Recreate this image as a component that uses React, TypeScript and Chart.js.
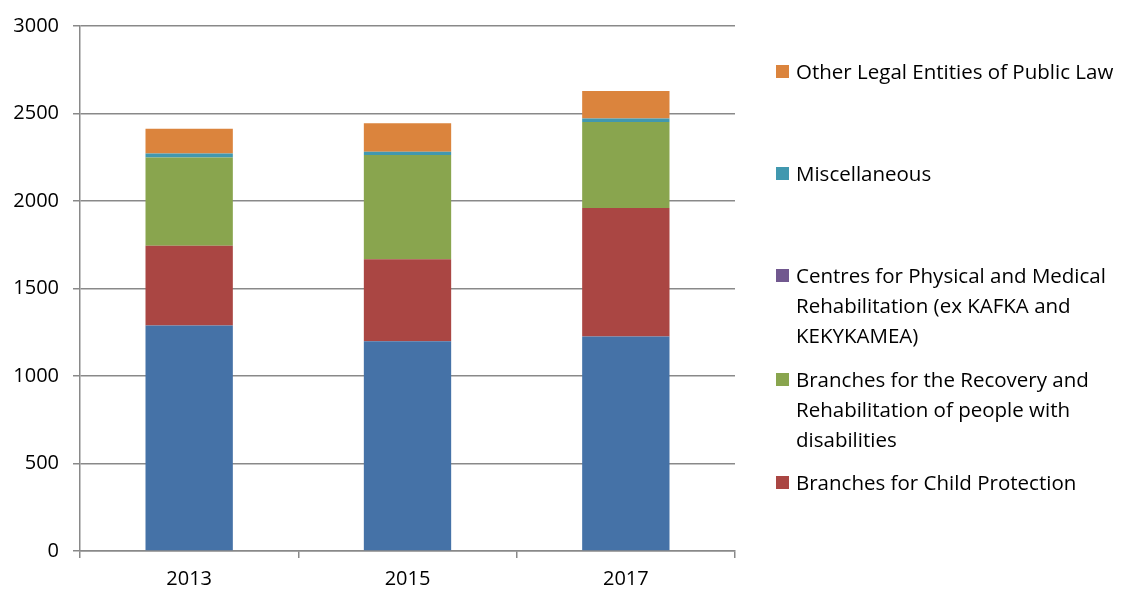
import React, { useEffect, useRef } from "react";
import { Chart, registerables } from "chart.js";

Chart.register(...registerables);

const years = ["2013", "2015", "2017"];
const seriesBlue = [1289, 1198, 1226];
const childProtection = [456, 469, 734];
const recoveryRehab = [504, 596, 491];
const physicalMedical = [0, 0, 0];
const miscellaneous = [23, 18, 20];
const otherLegal = [141, 164, 158];
const yTicks = [0, 500, 1000, 1500, 2000, 2500, 3000];

const FONT = "'Open Sans', sans-serif";
const GRID = "#898989";

const legendItems: { color: string; lines: string[] }[] = [
  { color: "#DB843D", lines: ["Other Legal Entities of Public Law"] },
  { color: "#4198AF", lines: ["Miscellaneous"] },
  {
    color: "#71588F",
    lines: ["Centres for Physical and Medical", "Rehabilitation (ex KAFKA and", "KEKYKAMEA)"],
  },
  {
    color: "#89A54E",
    lines: ["Branches for the Recovery and", "Rehabilitation of people with", "disabilities"],
  },
  { color: "#AA4643", lines: ["Branches for Child Protection"] },
];
const legendTops = [56, 158, 260, 364, 467];

export default function App() {
  const ref = useRef<HTMLCanvasElement | null>(null);

  useEffect(() => {
    if (!ref.current) return;
    const mk = (label: string, data: number[], color: string) => ({
      label,
      data,
      backgroundColor: color,
      borderWidth: 0,
      barPercentage: 0.4,
      categoryPercentage: 1,
    });
    const chart = new Chart(ref.current, {
      type: "bar",
      data: {
        labels: years,
        datasets: [
          mk("Other series", seriesBlue, "#4572A7"),
          mk("Branches for Child Protection", childProtection, "#AA4643"),
          mk("Branches for the Recovery and Rehabilitation of people with disabilities", recoveryRehab, "#89A54E"),
          mk("Centres for Physical and Medical Rehabilitation (ex KAFKA and KEKYKAMEA)", physicalMedical, "#71588F"),
          mk("Miscellaneous", miscellaneous, "#4198AF"),
          mk("Other Legal Entities of Public Law", otherLegal, "#DB843D"),
        ],
      },
      options: {
        animation: false,
        responsive: false,
        maintainAspectRatio: false,
        layout: { padding: { top: 25, right: 387, left: 0, bottom: 0 } },
        plugins: { legend: { display: false }, tooltip: { enabled: false } },
        scales: {
          x: {
            stacked: true,
            offset: true,
            grid: {
              offset: true,
              drawOnChartArea: false,
              color: GRID,
              lineWidth: 1.5,
              tickLength: 7,
            },
            border: { color: GRID, width: 1.5 },
            ticks: { color: "#000", font: { family: FONT, size: 20 }, padding: 9 },
            afterFit: (s: any) => {
              s.height = 41;
            },
          },
          y: {
            stacked: true,
            min: 0,
            max: 3000,
            afterBuildTicks: (s: any) => {
              s.ticks = yTicks.map((v) => ({ value: v }));
            },
            grid: { color: GRID, lineWidth: 1.5, tickLength: 7 },
            border: { color: GRID, width: 1.5 },
            ticks: {
              color: "#000",
              font: { family: FONT, size: 20 },
              padding: 14,
              callback: (v: any) => String(v),
            },
            afterFit: (s: any) => {
              s.width = 80;
            },
          },
        },
      },
    });
    return () => chart.destroy();
  }, []);

  return (
    <div style={{ position: "absolute", left: 0, top: 0, width: 1122, height: 592, background: "#fff" }}>
      <canvas ref={ref} width={1122} height={592} style={{ position: "absolute", left: 0, top: 0 }} />
      {legendItems.map((it, i) => (
        <div
          key={i}
          style={{
            position: "absolute",
            left: 776,
            top: legendTops[i],
            fontFamily: FONT,
            fontSize: 20.5,
            lineHeight: "30px",
            color: "#000",
            whiteSpace: "nowrap",
          }}
        >
          <span
            style={{
              position: "absolute",
              left: 0,
              top: 9,
              width: 13,
              height: 13,
              background: it.color,
            }}
          />
          <div style={{ marginLeft: 20 }}>
            {it.lines.map((l, j) => (
              <div key={j}>{l}</div>
            ))}
          </div>
        </div>
      ))}
    </div>
  );
}
